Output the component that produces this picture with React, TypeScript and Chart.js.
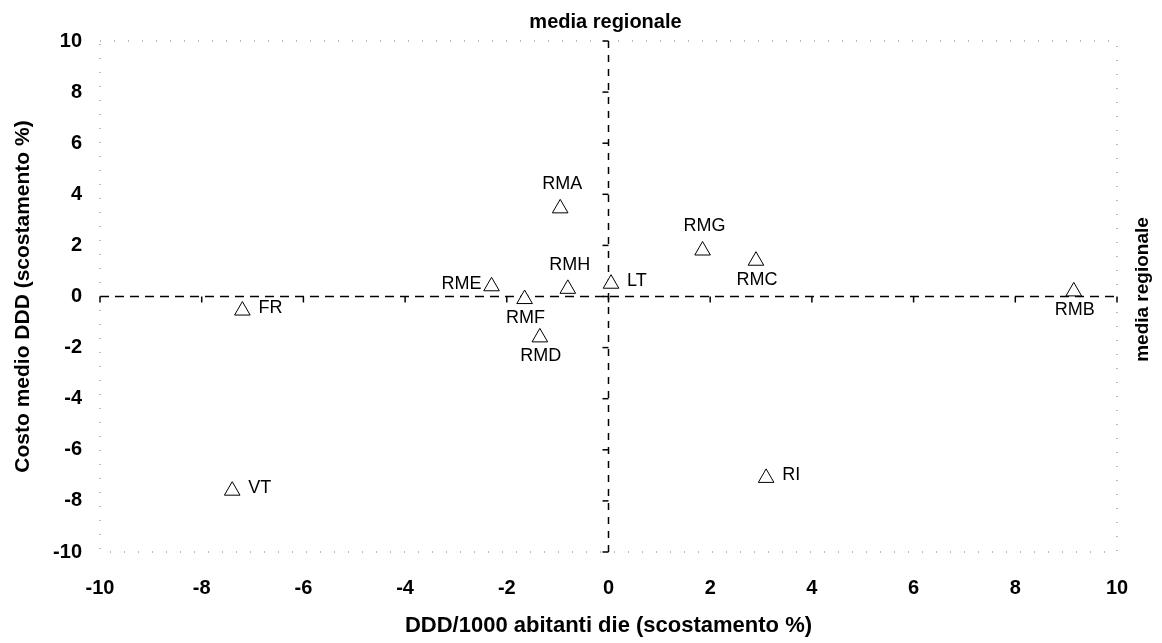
import React, { useEffect, useRef } from "react";
import { Chart, registerables } from "chart.js";

Chart.register(...registerables);

// ---- data ----
const regions = ["FR", "VT", "RME", "RMF", "RMD", "RMH", "RMA", "LT", "RMG", "RMC", "RMB", "RI"];
const dddDeviation = [-7.2, -7.4, -2.3, -1.65, -1.35, -0.8, -0.95, 0.05, 1.85, 2.9, 9.15, 3.1];
const costDeviation = [-0.55, -7.6, 0.4, -0.1, -1.6, 0.3, 3.45, 0.5, 1.8, 1.4, 0.2, -7.1];
const axisMin = -10;
const axisMax = 10;
const tickValues = [-10, -8, -6, -4, -2, 0, 2, 4, 6, 8, 10];
const regionalMeanX = 0;
const regionalMeanY = 0;
const xTitle = "DDD/1000 abitanti die (scostamento %)";
const yTitle = "Costo medio DDD (scostamento %)";
const meanTitle = "media regionale";

// label placement (style only)
const labelSide: Record<string, string> = {
  FR: "right", VT: "right", RME: "left", RMF: "below", RMD: "below", RMH: "above",
  RMA: "above", LT: "right", RMG: "above", RMC: "below", RMB: "below", RI: "right",
};

const FONT = '"Liberation Sans", Arial, Helvetica, sans-serif';

const annotatePlugin = {
  id: "annotate",
  afterDatasetsDraw(chart: any) {
    const { ctx, chartArea: a, scales } = chart;
    const xs = scales.x;
    const ys = scales.y;
    ctx.save();
    // sparse dotted frame
    ctx.strokeStyle = "#777";
    ctx.lineWidth = 1;
    ctx.setLineDash([1, 13]);
    ctx.strokeRect(a.left, a.top, a.right - a.left, a.bottom - a.top);
    // tick marks on the mean lines
    ctx.setLineDash([]);
    ctx.strokeStyle = "#000";
    ctx.lineWidth = 1.5;
    const y0 = ys.getPixelForValue(regionalMeanY);
    const x0 = xs.getPixelForValue(regionalMeanX);
    tickValues.forEach((v) => {
      const px = xs.getPixelForValue(v);
      ctx.beginPath();
      ctx.moveTo(px, y0);
      ctx.lineTo(px, y0 + 6);
      ctx.stroke();
      const py = ys.getPixelForValue(v);
      ctx.beginPath();
      ctx.moveTo(x0, py);
      ctx.lineTo(x0 - 6, py);
      ctx.stroke();
    });
    // point labels
    const meta = chart.getDatasetMeta(2);
    ctx.font = `18px ${FONT}`;
    ctx.fillStyle = "#000";
    meta.data.forEach((pt: any, i: number) => {
      const name = regions[i];
      const side = labelSide[name];
      ctx.textBaseline = "middle";
      if (side === "right") {
        ctx.textAlign = "left";
        ctx.fillText(name, pt.x + 16, pt.y - 3);
      } else if (side === "left") {
        ctx.textAlign = "right";
        ctx.fillText(name, pt.x - 10, pt.y - 2);
      } else if (side === "above") {
        ctx.textAlign = "center";
        ctx.fillText(name, pt.x + 2, pt.y - 24);
      } else {
        ctx.textAlign = "center";
        ctx.fillText(name, pt.x + 1, pt.y + 19);
      }
    });
    // "media regionale" titles
    ctx.font = `bold 20px ${FONT}`;
    ctx.textAlign = "center";
    ctx.textBaseline = "alphabetic";
    ctx.fillText(meanTitle, x0 - 3, 28);
    ctx.translate(1143, (a.top + a.bottom) / 2 - 7);
    ctx.rotate(-Math.PI / 2);
    ctx.font = `bold 19px ${FONT}`;
    ctx.textBaseline = "middle";
    ctx.fillText(meanTitle, 0, 0);
    ctx.restore();
  },
};

export default function App() {
  const canvasRef = useRef<HTMLCanvasElement | null>(null);

  useEffect(() => {
    document.body.style.margin = "0";
    const canvas = canvasRef.current;
    if (!canvas) return;
    const points = regions.map((_, i) => ({ x: dddDeviation[i], y: costDeviation[i] }));
    const chart = new Chart(canvas, {
      type: "scatter",
      data: {
        datasets: [
          {
            type: "line",
            data: [
              { x: axisMin, y: regionalMeanY },
              { x: axisMax, y: regionalMeanY },
            ],
            borderColor: "#000",
            borderWidth: 1.5,
            borderDash: [9, 6],
            pointRadius: 0,
            showLine: true,
            order: 2,
          },
          {
            type: "line",
            data: [
              { x: regionalMeanX, y: axisMin },
              { x: regionalMeanX, y: axisMax },
            ],
            borderColor: "#000",
            borderWidth: 1.5,
            borderDash: [7, 7],
            pointRadius: 0,
            showLine: true,
            order: 1,
          },
          {
            data: points,
            pointStyle: "triangle",
            pointRadius: 9,
            pointBorderWidth: 1,
            pointBorderColor: "#000",
            pointBackgroundColor: "#fff",
            order: 0,
          },
        ],
      } as any,
      options: {
        responsive: false,
        animation: false,
        devicePixelRatio: 1,
        layout: { padding: { top: 41, right: 45, bottom: 0, left: 0 } },
        plugins: {
          legend: { display: false },
          tooltip: { enabled: false },
        },
        scales: {
          x: {
            type: "linear",
            min: axisMin,
            max: axisMax,
            afterBuildTicks: (s: any) => {
              s.ticks = tickValues.map((v) => ({ value: v }));
            },
            ticks: {
              padding: 24,
              color: "#000",
              maxRotation: 0,
              font: { family: FONT, size: 20, weight: "bold" },
            },
            grid: { display: false, drawTicks: false },
            border: { display: false },
            title: {
              display: true,
              text: xTitle,
              color: "#000",
              font: { family: FONT, size: 22, weight: "bold" },
              padding: { top: 0, bottom: 4 },
            },
            afterFit: (s: any) => {
              s.height = 91;
            },
          },
          y: {
            type: "linear",
            min: axisMin,
            max: axisMax,
            afterBuildTicks: (s: any) => {
              s.ticks = tickValues.map((v) => ({ value: v }));
            },
            ticks: {
              padding: 18,
              color: "#000",
              font: { family: FONT, size: 20, weight: "bold" },
            },
            grid: { display: false, drawTicks: false },
            border: { display: false },
            title: {
              display: true,
              text: yTitle,
              color: "#000",
              font: { family: FONT, size: 21, weight: "bold" },
              padding: { top: 11, bottom: 0 },
            },
            afterFit: (s: any) => {
              s.width = 100;
            },
          },
        },
      } as any,
      plugins: [annotatePlugin],
    });
    return () => chart.destroy();
  }, []);

  return (
    <div style={{ width: 1162, height: 643, background: "#fff" }}>
      <canvas ref={canvasRef} width={1162} height={643} />
    </div>
  );
}
